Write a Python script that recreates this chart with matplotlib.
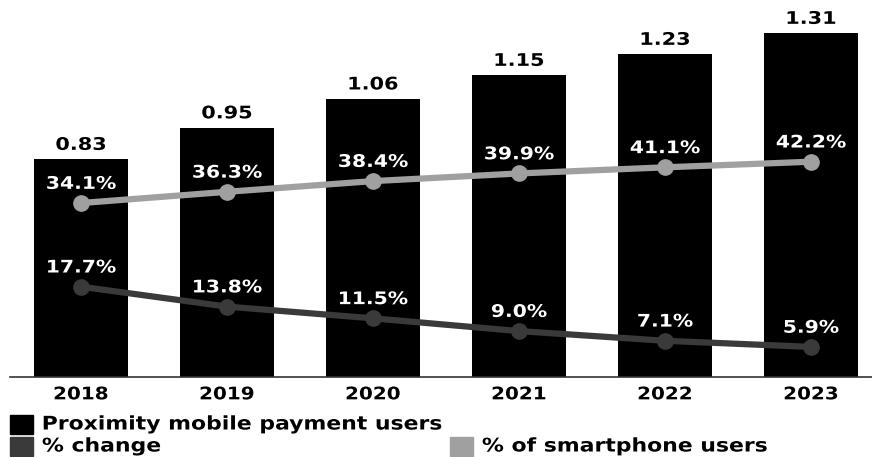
import matplotlib.pyplot as plt
import matplotlib.patheffects as pe
from matplotlib.patches import Rectangle
from matplotlib.transforms import Affine2D
import numpy as np

plt.rcParams['font.family'] = 'DejaVu Sans'
plt.rcParams['font.weight'] = 'bold'

years = ['2018', '2019', '2020', '2021', '2022', '2023']
users = [0.83, 0.95, 1.06, 1.15, 1.23, 1.31]
smartphone_pct = [34.1, 36.3, 38.4, 39.9, 41.1, 42.2]
change_pct = [17.7, 13.8, 11.5, 9.0, 7.1, 5.9]

bar_color = '#000000'
gray = '#a0a0a0'
dark = '#3a3a3a'


# the original type is wider than DejaVu, so stretch glyphs sideways
class Stretch(pe.AbstractPathEffect):
    def __init__(self, sx=1.2, anchor='center'):
        super().__init__()
        self.sx = sx
        self.anchor = anchor

    def draw_path(self, renderer, gc, tpath, affine, rgbFace=None):
        ext = tpath.get_extents()
        cx = (ext.x0 + ext.x1) / 2 if self.anchor == 'center' else ext.x0
        t = Affine2D().translate(-cx, 0).scale(self.sx, 1).translate(cx, 0) + affine
        renderer.draw_path(gc, tpath, t, rgbFace)


wide = [Stretch(1.2)]

fig = plt.figure(figsize=(8.72, 4.57), dpi=100)
ax = fig.add_axes([10 / 872, 80 / 457, 862 / 872, 377 / 457])
x = np.arange(len(years))

ax.bar(x, users, width=0.64, color=bar_color)
for xi, v in zip(x, users):
    ax.text(xi, v + 0.02, f'{v:.2f}', ha='center', va='bottom',
            fontsize=12.5, fontweight='bold', color='black', path_effects=wide)

ax.set_xlim(-0.486, 5.418)
ax.set_ylim(0, 1.436)
ax.set_yticks([])
ax.set_xticks(x)
ax.set_xticklabels(years, fontsize=12.5, fontweight='bold')
for lbl in ax.get_xticklabels():
    lbl.set_path_effects([Stretch(1.15)])
ax.tick_params(axis='x', length=0, pad=6)
for s in ['top', 'right', 'left']:
    ax.spines[s].set_visible(False)
ax.spines['bottom'].set_color('#333333')
ax.spines['bottom'].set_linewidth(1.2)

ax2 = ax.twinx()
ax2.set_ylim(0, 73.9)
ax2.axis('off')
ax2.plot(x, smartphone_pct, color=gray, lw=4.5, marker='o', ms=11)
ax2.plot(x, change_pct, color=dark, lw=4.5, marker='o', ms=11)

for xi, v in zip(x, smartphone_pct):
    ax2.text(xi, v + 2.0, f'{v:.1f}%', ha='center', va='bottom', fontsize=12.5,
             fontweight='bold', color='white', path_effects=[Stretch(1.17)])
for xi, v in zip(x, change_pct):
    ax2.text(xi, v + 2.0, f'{v:.1f}%', ha='center', va='bottom', fontsize=12.5,
             fontweight='bold', color='white', path_effects=[Stretch(1.17)])

# legend
items = [
    (10, 415, bar_color, 'Proximity mobile payment users'),
    (10, 437, dark, '% change'),
    (450, 437, gray, '% of smartphone users'),
]
for px, py, c, label in items:
    fig.add_artist(Rectangle((px / 872, 1 - (py + 19) / 457), 23 / 872, 19 / 457,
                             transform=fig.transFigure, color=c))
    fig.text((px + 32) / 872, 1 - (py + 9) / 457, label, ha='left', va='center',
             fontsize=13.5, fontweight='bold', color='black',
             path_effects=[Stretch(1.17, anchor='left')])

fig.savefig('out.png', dpi=100)
